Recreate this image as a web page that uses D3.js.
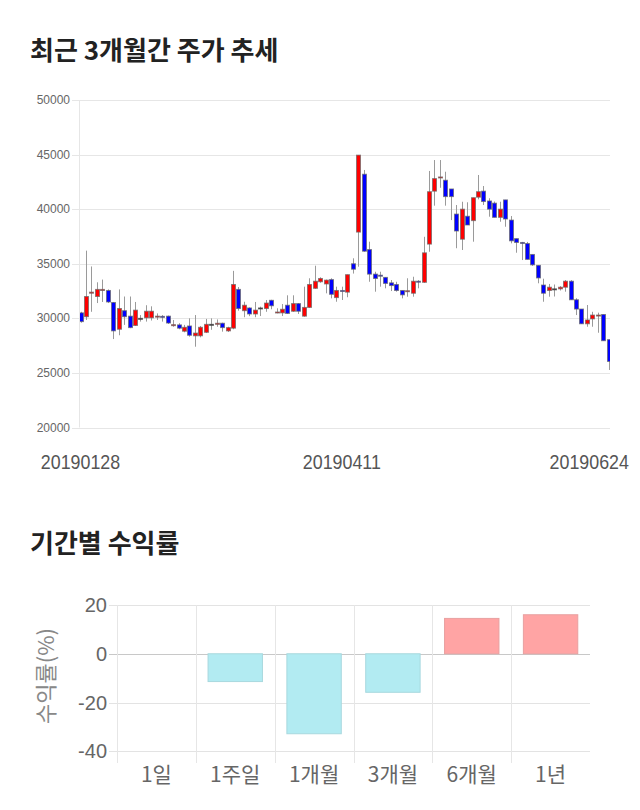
<!DOCTYPE html>
<html><head><meta charset="utf-8">
<script src="https://cdn.jsdelivr.net/npm/d3@7"></script>
<style>
html,body{margin:0;padding:0;background:#fff;}
svg{display:block;}
</style></head>
<body>
<svg id="chart" width="640" height="810"></svg>
<script>
// ---------- Data ----------
const dates = ["20190128","20190129","20190130","20190131","20190201","20190208","20190211","20190212","20190213",
"20190214","20190215","20190218","20190219","20190220","20190221","20190222","20190225","20190226","20190227",
"20190228","20190304","20190305","20190306","20190307","20190308","20190311","20190312","20190313","20190314",
"20190315","20190318","20190319","20190320","20190321","20190322","20190325","20190326","20190327","20190328",
"20190329","20190401","20190402","20190403","20190404","20190405","20190408","20190409","20190410","20190411",
"20190412","20190415","20190416","20190417","20190418","20190419","20190422","20190423","20190424","20190425",
"20190426","20190429","20190430","20190502","20190503","20190507","20190508","20190509","20190510","20190513","20190514",
"20190515","20190516","20190517","20190520","20190521","20190522","20190523","20190524","20190527","20190528",
"20190529","20190530","20190531","20190603","20190604","20190605","20190607","20190610","20190611","20190612",
"20190613","20190614","20190617","20190618","20190619","20190620","20190621","20190624"];
const openP = [30500,30150,32300,32000,32550,32550,31450,29000,30700,30200,
29350,30000,30050,30050,30150,30180,30200,29330,29400,28820,
29300,28400,28400,28720,29450,29450,29550,28850,29100,32650,
30700,30950,30400,30950,30900,31650,30500,30500,31200,30650,
31350,30200,31000,32750,33350,33150,33550,31900,32550,32400,
35000,37900,43200,36300,34050,33950,33750,33250,33100,32550,
32480,32300,33400,33300,36800,41650,42900,42650,41850,39550,
37250,39350,38950,41100,41650,40750,40550,39250,40850,39000,
37300,36950,36850,35850,34850,33050,32550,32700,32700,32850,
33400,31700,30850,29500,29950,30250,30350,28050];
const highP = [30600,36200,34750,33300,33550,32650,31500,32650,32000,32000,
31500,30300,31200,31100,30450,30300,30250,29850,29550,29400,
30000,30300,29300,29950,30000,29900,29600,29230,34350,32870,
31520,31000,31500,31070,31680,31700,30920,31310,32110,32110,
31400,32900,33670,34820,33760,33550,33670,32900,32900,34000,
35500,44950,43590,37020,34270,34270,33760,33510,33350,32550,
33670,33810,33500,37470,43500,44500,44500,43430,41850,40380,
40680,40630,41050,43130,42120,41000,40700,40680,40850,39370,
37300,37000,37000,35850,34850,33630,33150,33100,32950,33510,
33500,31840,30850,31220,30600,30520,30350,28050];
const lowP = [29600,29850,30600,31400,31500,31400,28100,28450,29400,29100,
29300,29700,29700,29800,29850,29700,29480,29230,29000,28720,
28320,27400,28260,28650,28950,29230,28780,28750,29000,30700,
30100,30200,30100,30210,30600,30830,30460,30210,30400,30600,
30400,30150,30950,32700,33260,32290,31830,31520,31680,31930,
34100,34730,36100,33350,32440,32900,32750,32500,32440,31830,
31980,31980,32750,33250,36100,40320,41960,40320,39000,36420,
36260,38550,37020,40900,40380,39310,39250,38850,38390,36870,
36010,35340,35400,34800,33210,31520,31980,32000,32550,32440,
31680,30300,29480,29230,29230,28680,27950,25270];
const closeP = [29700,32000,32400,32650,32650,31500,28850,30900,30150,29150,
30750,30000,30650,30650,30200,30150,29570,29420,29100,29180,
28450,28650,29180,29450,29450,29550,29150,29150,33100,30900,
31200,30400,30750,30950,31400,31150,30580,30830,30450,31350,
30650,31000,33100,33400,33650,33500,32200,32550,32500,34000,
34500,44950,36150,34050,33650,33900,33200,33000,32550,32150,
32530,33400,33350,36000,41600,42800,42950,41150,41150,38000,
40000,38550,41050,41600,40700,40000,39250,40000,39100,37100,
36950,36900,35400,34900,33700,32300,32850,32700,32850,33400,
31700,30850,29500,29850,30300,30300,27950,26050];
const priceTicks = [20000,25000,30000,35000,40000,45000,50000];
const dateLabels = ["20190128","20190411","20190624"];

const periods = ["1일","1주일","1개월","3개월","6개월","1년"];
const returns = [0,-11.4,-32.8,-15.8,14.5,16.0];
const returnTicks = [-40,-20,0,20];

// ---------- Setup ----------
const svg = d3.select("#chart");
const KR = "'Noto Sans CJK KR','Noto Sans',sans-serif";
const SANS = "'Liberation Sans',Arial,sans-serif";

// Titles
svg.append("text").attr("x",30).attr("y",60).text("최근 3개월간 주가 추세")
  .attr("font-family",KR).attr("font-weight","bold").attr("font-size",26).attr("fill","#222");
svg.append("text").attr("x",30).attr("y",553).text("기간별 수익률")
  .attr("font-family",KR).attr("font-weight","bold").attr("font-size",26).attr("fill","#222");

// ---------- Candlestick ----------
const cx0 = 79, cx1 = 610, cyTop = 100, cyBot = 427.5;
const y = d3.scaleLinear().domain([20000,50000]).range([cyBot,cyTop]);
const x = d3.scalePoint().domain(dates).range([80.5,608.7]);

const g1 = svg.append("g");
g1.selectAll("line.hg").data(priceTicks).join("line")
  .attr("x1",72).attr("x2",cx1).attr("y1",d=>Math.round(y(d))+0.5).attr("y2",d=>Math.round(y(d))+0.5)
  .attr("stroke","#e6e6e6").attr("stroke-width",1);
g1.append("line").attr("x1",cx0+0.5).attr("x2",cx0+0.5).attr("y1",cyTop).attr("y2",cyBot)
  .attr("stroke","#e6e6e6");
g1.selectAll("text.yt").data(priceTicks).join("text")
  .attr("x",70).attr("y",d=>y(d)+4).attr("text-anchor","end")
  .attr("font-family",SANS).attr("font-size",12).attr("fill","#666").text(d=>d);

svg.append("defs").append("clipPath").attr("id","clipC").append("rect")
  .attr("x",cx0+1).attr("y",cyTop-5).attr("width",cx1-cx0-1).attr("height",cyBot-cyTop+10);
const gc = svg.append("g").attr("clip-path","url(#clipC)");
const idx = d3.range(dates.length);
gc.selectAll("line.wick").data(idx).join("line")
  .attr("x1",i=>Math.round(x(dates[i]))+0.5).attr("x2",i=>Math.round(x(dates[i]))+0.5)
  .attr("y1",i=>y(highP[i])).attr("y2",i=>y(lowP[i]))
  .attr("stroke","#9a9a9a").attr("stroke-width",1);
const bw = 4;
gc.selectAll("rect.body").data(idx).join("rect")
  .attr("x",i=>Math.round(x(dates[i]))-bw/2+0.5)
  .attr("width",bw)
  .attr("y",i=>y(Math.max(openP[i],closeP[i])))
  .attr("height",i=>Math.max(1,Math.abs(y(openP[i])-y(closeP[i]))))
  .attr("fill",i=>closeP[i]>openP[i]?"#ff0000":(closeP[i]<openP[i]?"#0000ff":"#333"))
  .attr("stroke",i=>closeP[i]===openP[i]?"#444":"#666")
  .attr("stroke-opacity",0.7).attr("stroke-width",1);

// date labels (slightly condensed)
dateLabels.forEach(lbl=>{
  const t = svg.append("text").attr("x",0).attr("y",0).attr("text-anchor","middle")
    .attr("font-family",SANS).attr("font-size",21).attr("fill","#555").text(lbl);
  const w = t.node().getComputedTextLength()*0.85;
  let cx = x(lbl);
  cx = Math.max(w/2+2, Math.min(cx, 629 - w/2));
  t.attr("transform",`translate(${cx},469) scale(0.85,1)`);
});

// ---------- Bar chart ----------
const bx0 = 117, bx1 = 590;
const yb = d3.scaleLinear().domain([-40,20]).range([751.3,605]);
const xb = d3.scaleBand().domain(periods).range([bx0,bx1]).paddingInner(0.31).paddingOuter(0.155);
const xbFull = d3.scaleBand().domain(periods).range([bx0,bx1]);
const g2 = svg.append("g");
g2.selectAll("line.bh").data(returnTicks).join("line")
  .attr("x1",109).attr("x2",bx1).attr("y1",d=>Math.round(yb(d))+0.5).attr("y2",d=>Math.round(yb(d))+0.5)
  .attr("stroke",d=>d===0?"#c8c8c8":"#e3e3e3");
g2.selectAll("line.bv").data(periods).join("line")
  .attr("x1",d=>Math.round(xbFull(d))+0.5).attr("x2",d=>Math.round(xbFull(d))+0.5)
  .attr("y1",605).attr("y2",763).attr("stroke","#e6e6e6");
g2.selectAll("rect.bar").data(periods).join("rect")
  .attr("x",d=>xb(d)).attr("width",xb.bandwidth())
  .attr("y",(d,i)=>yb(Math.max(0,returns[i])))
  .attr("height",(d,i)=>Math.abs(yb(returns[i])-yb(0)))
  .attr("fill",(d,i)=>returns[i]>=0?"#ffa4a4":"#b2ebf2")
  .attr("stroke",(d,i)=>returns[i]>=0?"#e8a0a0":"#a8d8de").attr("stroke-width",1);
g2.selectAll("text.by").data(returnTicks).join("text")
  .attr("x",107).attr("y",d=>yb(d)+7).attr("text-anchor","end")
  .attr("font-family",SANS).attr("font-size",20).attr("fill","#666").text(d=>d);
g2.selectAll("text.bx").data(periods).join("text")
  .attr("x",d=>xbFull(d)+xbFull.bandwidth()/2).attr("y",782).attr("text-anchor","middle")
  .attr("font-family",KR).attr("font-size",21).attr("fill","#666").text(d=>d);
svg.append("text").attr("transform","translate(54,676) rotate(-90)").attr("text-anchor","middle")
  .attr("font-family",KR).attr("font-size",22).attr("fill","#888").text("수익률(%)");
</script>
</body></html>
